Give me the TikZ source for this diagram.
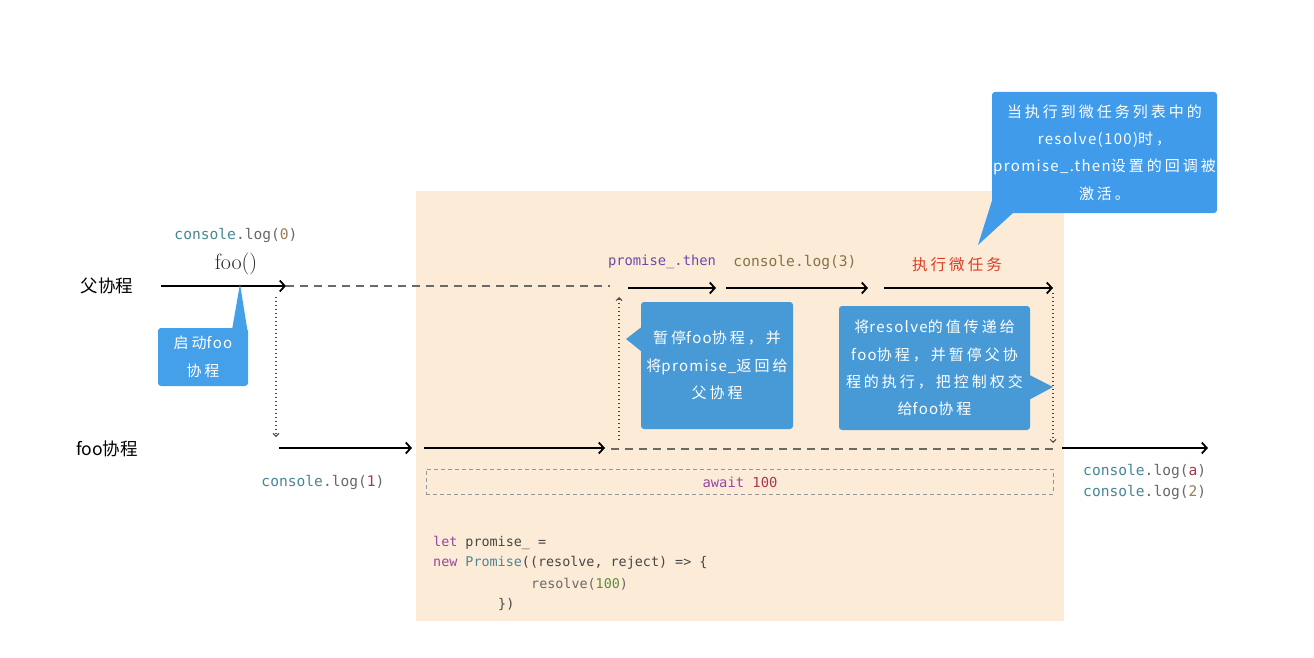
\documentclass[tikz,border=0pt]{standalone}
\usepackage{fontspec}
\newfontfamily\cjk{Noto Sans CJK SC}
\newfontfamily\cjkwide[LetterSpace=20]{Noto Sans CJK SC}
\newfontfamily\cjklat[LetterSpace=9]{Noto Sans CJK SC}
\newfontfamily\mono{DejaVu Sans Mono}
\newcommand{\lt}[1]{{\cjklat #1}}
\usetikzlibrary{arrows.meta,calc}
\definecolor{peach}{RGB}{252,236,215}
\definecolor{calloutblue}{RGB}{72,154,214}
\definecolor{topblue}{RGB}{64,155,234}
\definecolor{leftblue}{RGB}{68,160,232}
\definecolor{dashgrey}{RGB}{105,105,105}
\definecolor{boxgrey}{RGB}{150,150,150}
\definecolor{dotgrey}{RGB}{70,70,70}
\definecolor{cteal}{RGB}{70,135,150}
\definecolor{cgrey}{RGB}{105,105,105}
\definecolor{colive}{RGB}{150,128,80}
\definecolor{cred}{RGB}{170,55,75}
\definecolor{cpurple}{RGB}{105,75,165}
\definecolor{ckey}{RGB}{150,70,160}
\definecolor{cgreen}{RGB}{95,140,60}
\definecolor{taskred}{RGB}{220,60,40}
\begin{document}
\begin{tikzpicture}[x=1pt,y=-1pt,
  mono/.style={font=\mono\fontsize{14.6}{17}\selectfont, inner sep=0pt},
  code/.style={font=\mono\fontsize{13.4}{16}\selectfont, inner sep=0pt, anchor=west, text=dotgrey},
  cjklabel/.style={font=\cjk\fontsize{17.5}{20}\selectfont, inner sep=0pt},
  arr/.style={draw=black, line width=1.8pt, -{Straight Barb[length=5pt,width=11pt]}},
  dashline/.style={draw=dashgrey, line width=1.3pt, dash pattern=on 8pt off 6pt},
  dotarrow/.style={draw=dotgrey, line width=1.3pt, dash pattern=on 1.3pt off 2.7pt, -{Straight Barb[length=3pt,width=6pt,line width=1pt]}},
  bubble/.style={fill=calloutblue, rounded corners=3pt, text=white, font=\cjkwide\fontsize{15}{27.3}\selectfont, align=center, inner sep=0pt},
]
\fill[white] (0,0) rectangle (1314,658);
\useasboundingbox (0,0) rectangle (1314,658);
% background panel
\fill[peach] (416,191) rectangle (1064,621);

% coordinates of the parent line
\coordinate (pa) at (161,286);
\coordinate (pb) at (286,286);
\coordinate (pc) at (610,286);
\coordinate (pd) at (628,288);
\coordinate (pe) at (716,288);
\coordinate (pf) at (726,288);
\coordinate (pg) at (868,288);
\coordinate (ph) at (884,288);
\coordinate (pi) at (1053,288);
% coordinates of the foo line
\coordinate (fa) at (279,448);
\coordinate (fb) at (412,448);
\coordinate (fc) at (424,448);
\coordinate (fd) at (605,448);
\coordinate (fe) at (611,449);
\coordinate (ff) at (1053,449);
\coordinate (fg) at (1062,448);
\coordinate (fh) at (1208,448);
% dotted verticals
\coordinate (d1a) at (276,297);
\coordinate (d1b) at (276,437);
\coordinate (d2a) at (619,440);
\coordinate (d2b) at (619,297);
\coordinate (d3a) at (1053,293);
\coordinate (d3b) at (1053,443);

% lines
\draw[arr] (pa) -- (pb);
\draw[dashline] (pb) -- (pc);
\draw[arr] (pd) -- (pe);
\draw[arr] (pf) -- (pg);
\draw[arr] (ph) -- (pi);
\draw[arr] (fa) -- (fb);
\draw[arr] (fc) -- (fd);
\draw[dashline] (fe) -- (ff);
\draw[arr] (fg) -- (fh);
\draw[dotarrow] (d1a) -- (d1b);
\draw[dotarrow] (d2a) -- (d2b);
\draw[dotarrow] (d3a) -- (d3b);

% await box
\node[draw=boxgrey, line width=0.9pt, dash pattern=on 4pt off 3pt, minimum width=627pt, minimum height=25pt, inner sep=0pt] (await) at (739.5,481.5) {};
\node[mono, font=\mono\fontsize{13.8}{16}\selectfont] (awaittxt) at (740,482) {{\color{ckey}await} {\color{cred}100}};

% row labels
\node[cjklabel] (parent) at (107,286) {父协程};
\node[cjklabel] (foo) at (107,449) {foo协程};

% text labels
\node[mono] (log0) at (236,235) {{\color{cteal}console}{\color{cgrey}.log(}{\color{colive}0}{\color{cgrey})}};
\node[inner sep=0pt, font=\fontsize{22}{24}\selectfont, text=black!85] (foocall) at (236,264) {foo()};
\node[mono] (log1) at (323,482) {{\color{cteal}console}{\color{cgrey}.log(}{\color{cred}1}{\color{cgrey})}};
\node[mono, font=\mono\fontsize{13.8}{16}\selectfont, text=cpurple] (then) at (662,262) {promise\_.then};
\node[mono, text=colive!90!black] (log3) at (795,262) {console.log(3)};
\node[inner sep=0pt, font=\cjkwide\fontsize{15.5}{18}\selectfont, text=taskred] (task) at (957,265) {执行微任务};
\node[mono, anchor=west] (loga) at (1083,471) {{\color{cteal}console}{\color{cgrey}.log(}{\color{cred}a}{\color{cgrey})}};
\node[mono, anchor=west] (log2) at (1083,492) {{\color{cteal}console}{\color{cgrey}.log(}{\color{colive}2}{\color{cgrey})}};

% code
\node[code] (code1) at (433,543) {{\color{ckey}let} promise\_ =};
\node[code] (code2) at (433,563) {{\color{ckey}new} {\color{cteal}Promise}((resolve, reject) => \{};
\node[code] (code3) at (531,584) {{\color{cgrey}resolve(}{\color{cgreen}100}{\color{cgrey})}};
\node[code] (code4) at (498,604) {\})};

% callouts
\node[bubble, fill=leftblue, minimum width=90pt, text width=90pt, minimum height=58pt, font=\cjkwide\fontsize{15}{28}\selectfont] (c1) at (203,357) {启动\lt{foo}\\协程};
\coordinate (t1) at (240,284);
\fill[leftblue] ($(c1.north east)+(-16,1)$) -- (t1) -- ($(c1.north east)+(-1,1)$) -- cycle;

\node[bubble, minimum width=152pt, text width=152pt, minimum height=127pt] (c2) at (717,365.5) {暂停\lt{foo}协程，并\\将\lt{promise\_}返回给\\父协程};
\coordinate (t2) at (626,339);
\fill[calloutblue] ($(c2.north west)+(1,25)$) -- (t2) -- ($(c2.north west)+(1,50)$) -- cycle;

\node[bubble, minimum width=191pt, text width=191pt, minimum height=124pt] (c3) at (934.5,368) {将\lt{resolve}的值传递给\\\lt{foo}协程，并暂停父协\\程的执行，把控制权交\\给\lt{foo}协程};
\coordinate (t3) at (1053,387);
\fill[calloutblue] ($(c3.north east)+(-1,69)$) -- (t3) -- ($(c3.north east)+(-1,94)$) -- cycle;

\node[bubble, fill=topblue, minimum width=225pt, text width=225pt, minimum height=121pt] (c4) at (1104.5,152.5) {当执行到微任务列表中的\\\lt{resolve(100)}时，\\\lt{promise\_.then}设置的回调被\\激活。};
\coordinate (t4) at (978,245);
\fill[topblue] ($(c4.south west)+(0,-12)$) -- (t4) -- ($(c4.south west)+(22,-1)$) -- cycle;
\end{tikzpicture}
\end{document}
